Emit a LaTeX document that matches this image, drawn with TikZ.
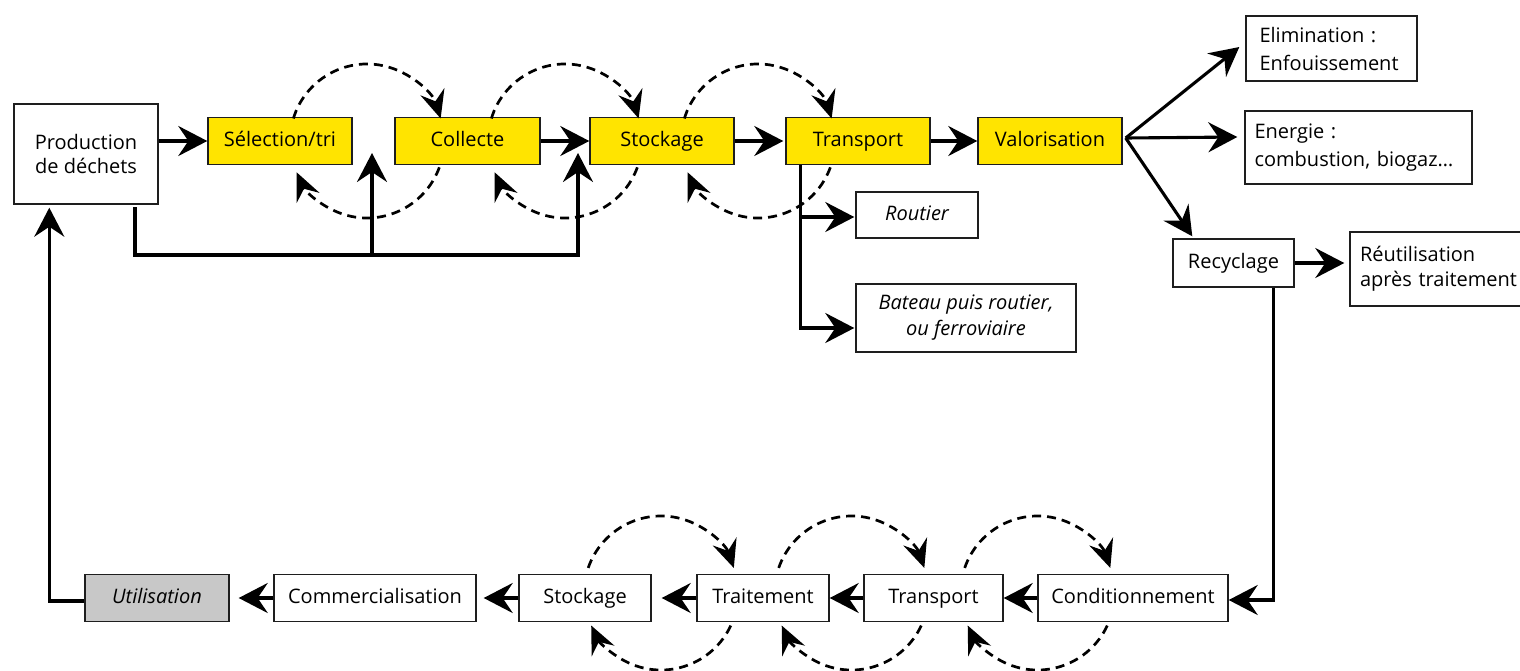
\documentclass[tikz,border=0pt]{standalone}
\usepackage{fontspec}
\setmainfont{Open Sans}
\usetikzlibrary{arrows.meta,calc}
\definecolor{yel}{RGB}{255,228,0}
\definecolor{gry}{RGB}{200,200,200}
\definecolor{edge}{RGB}{30,30,30}
\begin{document}
\begin{tikzpicture}[x=0.5pt,y=-0.5pt,
  box/.style={draw=edge, line width=0.7pt, inner sep=0pt, minimum height=23.5pt, text height=7.6pt, text depth=2.2pt, font=\fontsize{10}{13}\selectfont},
  ybox/.style={box, fill=yel},
  mbox/.style={box, text height=, text depth=},
  lbox/.style={mbox, align=left},
  ar/.style={line width=1.55pt, -{Stealth[length=14.5pt,width=15pt,inset=5pt]}},
  dar/.style={line width=1.35pt, dash pattern=on 4.5pt off 3pt, -{Stealth[length=14pt,width=12.5pt,inset=5pt]}}]
\useasboundingbox (0,0) rectangle (1520,670);

% top row
\node[mbox, minimum width=72pt, minimum height=50pt, align=center, font=\fontsize{10}{12}\selectfont] (prod) at (86,154) {Production\\de déchets};
\node[ybox, minimum width=72pt] (sel) at (280,141) {Sélection/tri};
\node[ybox, minimum width=72.5pt] (col) at (467.5,141) {Collecte};
\node[ybox, minimum width=72pt] (sto) at (662,141) {Stockage};
\node[ybox, minimum width=72pt] (tra) at (858,141) {Transport};
\node[ybox, minimum width=72pt] (val) at (1050,141) {Valorisation};

% right side
\node[lbox, minimum height=32.5pt, text width=72pt, inner xsep=6.75pt, font=\fontsize{10}{14}\selectfont] (elim) at (1331.5,48.5) {Elimination :\\Enfouissement};
\node[lbox, minimum height=36.5pt, text width=104pt, inner xsep=4.75pt, font=\fontsize{10}{14}\selectfont] (ener) at (1358.5,147.5) {Energie :\\combustion, biogaz…};
\node[box, minimum width=60.5pt, minimum height=24pt] (recy) at (1233.5,263) {Recyclage};
\node[lbox, minimum height=37pt, text width=80pt, inner xsep=5pt, font=\fontsize{10}{12.5}\selectfont] (reut) at (1440,269) {Réutilisation\\après traitement};

% transport branches
\node[box, minimum width=61pt, minimum height=23pt, font=\fontsize{10}{13}\selectfont\itshape] (rout) at (917,215) {Routier};
\node[mbox, minimum width=110pt, minimum height=34pt, align=center, font=\fontsize{10}{13}\selectfont\itshape] (bat) at (966,318) {Bateau puis routier,\\ou ferroviaire};

% bottom row
\node[box, fill=gry, minimum width=72pt, font=\fontsize{10}{13}\selectfont\itshape] (util) at (157,598) {Utilisation};
\node[box, minimum width=101pt] (comm) at (375,598) {Commercialisation};
\node[box, minimum width=66pt] (sto2) at (585,598) {Stockage};
\node[box, minimum width=66pt] (trai) at (763,598) {Traitement};
\node[box, minimum width=69.5pt] (tra2) at (933.5,598) {Transport};
\node[box, minimum width=95pt] (cond) at (1133,598) {Conditionnement};

% top row connectors
\draw[ar] (sel.west -| prod.east) -- (sel.west);
\draw[ar] (col.east) -- (sto.west);
\draw[ar] (sto.east) -- ([xshift=-1pt]tra.west);
\draw[ar] (tra.east) -- (val.west);

\coordinate (p1) at (135,207);
\coordinate (jA) at (372,255);
\coordinate (jB) at (578,255);
\coordinate (tA) at (372,153);
\coordinate (tB) at (578,153);
\draw[ar] (p1) |- (jB) -- (tB);
\draw[ar] (jA) -- (tA);

% transport branches
\coordinate (tb) at ([xshift=7.5pt]tra.south west);
\draw[ar] (tb) |- ([xshift=-0.5pt,yshift=-1pt]rout.west);
\draw[ar] (tb) |- ([xshift=-0.5pt,yshift=-5pt]bat.west);

% valorisation outputs
\coordinate (vo) at ([xshift=1.5pt,yshift=1.5pt]val.east);
\draw[ar] (vo) -- ([xshift=-3pt,yshift=0.75pt]elim.west);
\draw[ar] (vo) -- ([xshift=-3.5pt,yshift=5.25pt]ener.west);
\draw[ar] (vo) -- ([xshift=10pt,yshift=1pt]recy.north west);
\draw[ar, shorten >=2.5pt] (recy.east) -- (recy.east -| reut.west);

% recycling down to bottom row
\draw[ar, shorten >=-2pt] ([xshift=-10.5pt]recy.south east) |- ([xshift=2pt,yshift=-1pt]cond.east);

% bottom row connectors
\draw[ar] (cond.west) -- (tra2.east);
\draw[ar] (tra2.west) -- (trai.east);
\draw[ar, shorten >=5pt] (trai.west) -- (sto2.east);
\draw[ar, shorten >=3.5pt] (sto2.west) -- (comm.east);
\draw[ar, shorten >=4.5pt] (comm.west) -- (util.east);

% return to production
\draw[ar] ([yshift=-1.5pt]util.west) -| ([xshift=18pt,yshift=-1.5pt]prod.south west);

% dashed loops, top row
\coordinate (c1) at (367,141);
\coordinate (c2) at (565,141);
\coordinate (c3) at (758,141);
\foreach \c in {c1,c2,c3}{
  \draw[dar] ($(\c)+(-163:77)$) arc[start angle=-163,end angle=-17,radius=77];
  \draw[dar] ($(\c)+(20:77)$) arc[start angle=20,end angle=156,radius=77];
}
% dashed loops, bottom row
\coordinate (d1) at (661,593);
\coordinate (d2) at (851.5,593);
\coordinate (d3) at (1037.5,593);
\foreach \c in {d1,d2,d3}{
  \draw[dar] ($(\c)+(-161:77)$) arc[start angle=-161,end angle=-19,radius=77];
  \draw[dar] ($(\c)+(25:77)$) arc[start angle=25,end angle=155,radius=77];
}
\end{tikzpicture}
\end{document}
